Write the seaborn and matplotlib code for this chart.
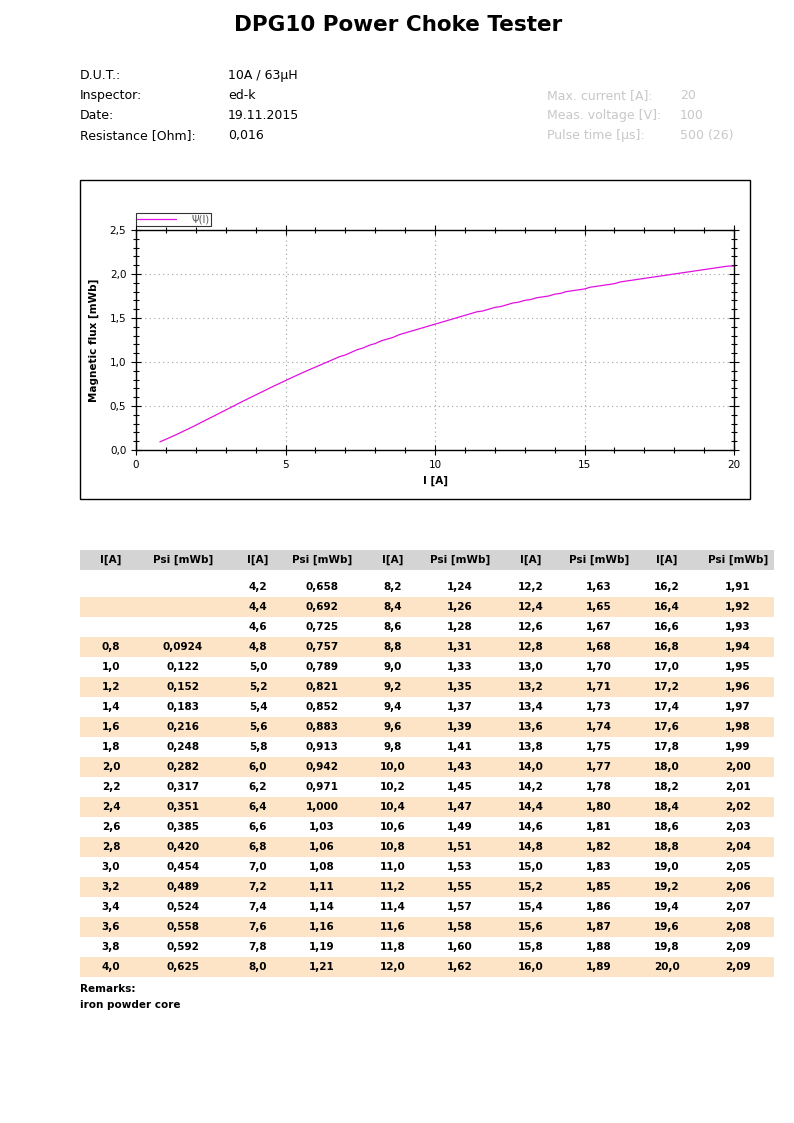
import numpy as np
import pandas as pd
import matplotlib
matplotlib.use("Agg")
import matplotlib.pyplot as plt
from matplotlib.patches import Rectangle
from matplotlib.ticker import FuncFormatter, MultipleLocator
import seaborn as sns

# measured values, as printed in the table (decimal comma)
current_1 = ["0,8", "1,0", "1,2", "1,4", "1,6", "1,8", "2,0", "2,2", "2,4", "2,6",
             "2,8", "3,0", "3,2", "3,4", "3,6", "3,8", "4,0"]
psi_1 = ["0,0924", "0,122", "0,152", "0,183", "0,216", "0,248", "0,282", "0,317", "0,351",
         "0,385", "0,420", "0,454", "0,489", "0,524", "0,558", "0,592", "0,625"]
current_2 = ["4,2", "4,4", "4,6", "4,8", "5,0", "5,2", "5,4", "5,6", "5,8", "6,0",
             "6,2", "6,4", "6,6", "6,8", "7,0", "7,2", "7,4", "7,6", "7,8", "8,0"]
psi_2 = ["0,658", "0,692", "0,725", "0,757", "0,789", "0,821", "0,852", "0,883", "0,913", "0,942",
         "0,971", "1,000", "1,03", "1,06", "1,08", "1,11", "1,14", "1,16", "1,19", "1,21"]
current_3 = ["8,2", "8,4", "8,6", "8,8", "9,0", "9,2", "9,4", "9,6", "9,8", "10,0",
             "10,2", "10,4", "10,6", "10,8", "11,0", "11,2", "11,4", "11,6", "11,8", "12,0"]
psi_3 = ["1,24", "1,26", "1,28", "1,31", "1,33", "1,35", "1,37", "1,39", "1,41", "1,43",
         "1,45", "1,47", "1,49", "1,51", "1,53", "1,55", "1,57", "1,58", "1,60", "1,62"]
current_4 = ["12,2", "12,4", "12,6", "12,8", "13,0", "13,2", "13,4", "13,6", "13,8", "14,0",
             "14,2", "14,4", "14,6", "14,8", "15,0", "15,2", "15,4", "15,6", "15,8", "16,0"]
psi_4 = ["1,63", "1,65", "1,67", "1,68", "1,70", "1,71", "1,73", "1,74", "1,75", "1,77",
         "1,78", "1,80", "1,81", "1,82", "1,83", "1,85", "1,86", "1,87", "1,88", "1,89"]
current_5 = ["16,2", "16,4", "16,6", "16,8", "17,0", "17,2", "17,4", "17,6", "17,8", "18,0",
             "18,2", "18,4", "18,6", "18,8", "19,0", "19,2", "19,4", "19,6", "19,8", "20,0"]
psi_5 = ["1,91", "1,92", "1,93", "1,94", "1,95", "1,96", "1,97", "1,98", "1,99", "2,00",
         "2,01", "2,02", "2,03", "2,04", "2,05", "2,06", "2,07", "2,08", "2,09", "2,09"]

info_labels = ["D.U.T.:", "Inspector:", "Date:", "Resistance [Ohm]:"]
info_values = ["10A / 63µH", "ed-k", "19.11.2015", "0,016"]
setup_labels = ["Max. current [A]:", "Meas. voltage [V]:", "Pulse time [µs]:"]
setup_values = ["20", "100", "500 (26)"]


def num(s):
    return float(s.replace(",", "."))


cur_cols = [current_1, current_2, current_3, current_4, current_5]
psi_cols = [psi_1, psi_2, psi_3, psi_4, psi_5]
df = pd.DataFrame({
    "I": [num(v) for c in cur_cols for v in c],
    "psi": [num(v) for c in psi_cols for v in c],
})

sns.set_style("ticks")
plt.rcParams['font.family'] = ['DejaVu Sans']
plt.rcParams['text.color'] = 'black'
plt.rcParams['axes.labelcolor'] = 'black'
plt.rcParams['xtick.color'] = 'black'
plt.rcParams['ytick.color'] = 'black'

W, H = 794, 1123
fig = plt.figure(figsize=(W / 100, H / 100), dpi=100)

# page layer in pixel coordinates
page = fig.add_axes([0, 0, 1, 1], zorder=0)
page.set_xlim(0, W)
page.set_ylim(H, 0)
page.axis("off")

page.text(398, 25, "DPG10 Power Choke Tester", ha="center", va="center",
          fontsize=15.5, fontweight="bold")
for i, (lab, val) in enumerate(zip(info_labels, info_values)):
    y = 79 + 20 * i
    page.text(80, y, lab, fontsize=9, va="baseline")
    page.text(228, y, val, fontsize=9, va="baseline")
for i, (lab, val) in enumerate(zip(setup_labels, setup_values)):
    y = 99 + 20 * i
    page.text(547, y, lab, fontsize=9, va="baseline", color="#c8c8c8")
    page.text(680, y, val, fontsize=9, va="baseline", color="#c8c8c8")

# chart frame
page.add_patch(Rectangle((80, 180), 670, 319, fill=False, edgecolor="black", lw=1))

# table
page.add_patch(Rectangle((80, 550), 694, 20, facecolor="#d4d4d4", edgecolor="none"))
i_x = [111, 258, 393, 531, 667]
p_x = [183, 322, 460, 599, 738]
for k in range(5):
    page.text(i_x[k], 560, "I[A]", ha="center", va="center", fontsize=7.5, fontweight="bold")
    page.text(p_x[k], 560, "Psi [mWb]", ha="center", va="center", fontsize=7.5, fontweight="bold")
n_rows = 20
for r in range(n_rows):
    y = 587 + 20 * r
    if r % 2 == 1:
        page.add_patch(Rectangle((80, y - 10), 694, 20, facecolor="#fde4c6", edgecolor="none"))
for k in range(5):
    offset = n_rows - len(cur_cols[k])
    for j, (cv, pv) in enumerate(zip(cur_cols[k], psi_cols[k])):
        y = 587 + 20 * (j + offset)
        page.text(i_x[k], y, cv, ha="center", va="center", fontsize=7.5, fontweight="bold")
        page.text(p_x[k], y, pv, ha="center", va="center", fontsize=7.5, fontweight="bold")

page.text(80, 989, "Remarks:", fontsize=7.5, fontweight="bold", va="center")
page.text(80, 1005, "iron powder core", fontsize=7.5, fontweight="bold", va="center")

# the curve
ax = fig.add_axes([136 / W, 1 - 450 / H, (734 - 136) / W, (450 - 230) / H], zorder=2)
ax.patch.set_alpha(0)
sns.lineplot(data=df, x="I", y="psi", ax=ax, color="#e010e0", lw=0.9, label="Ψ(I)")
ax.set_xlim(0, 20)
ax.set_ylim(0, 2.5)
ax.xaxis.set_major_locator(MultipleLocator(5))
ax.xaxis.set_minor_locator(MultipleLocator(1))
ax.yaxis.set_major_locator(MultipleLocator(0.5))
ax.yaxis.set_minor_locator(MultipleLocator(0.1))
ax.yaxis.set_major_formatter(FuncFormatter(lambda v, p: f"{v:.1f}".replace(".", ",")))
ax.xaxis.set_major_formatter(FuncFormatter(lambda v, p: f"{v:g}"))
ax.tick_params(which="both", direction="inout", top=True, right=True,
               labelsize=7.5, width=0.8, colors="black")
ax.tick_params(which="major", length=7)
ax.tick_params(which="minor", length=4)
for s in ax.spines.values():
    s.set_linewidth(1)
    s.set_color("black")
ax.grid(True, which="major", color="#a0a0a0", linestyle=(0, (1, 3)), lw=0.8)
ax.set_xlabel("I [A]", fontsize=7.5, fontweight="bold", labelpad=4)
ax.set_ylabel("Magnetic flux [mWb]", fontsize=7.5, fontweight="bold", labelpad=8)
leg = ax.legend(loc="lower left", bbox_to_anchor=(0, 1.02), fontsize=7,
                frameon=True, fancybox=False, edgecolor="black", borderpad=0.15,
                handlelength=4, handletextpad=1.6, borderaxespad=0)
leg.get_frame().set_linewidth(0.8)
for t in leg.get_texts():
    t.set_color("#555555")

fig.savefig("out.png", dpi=100)
